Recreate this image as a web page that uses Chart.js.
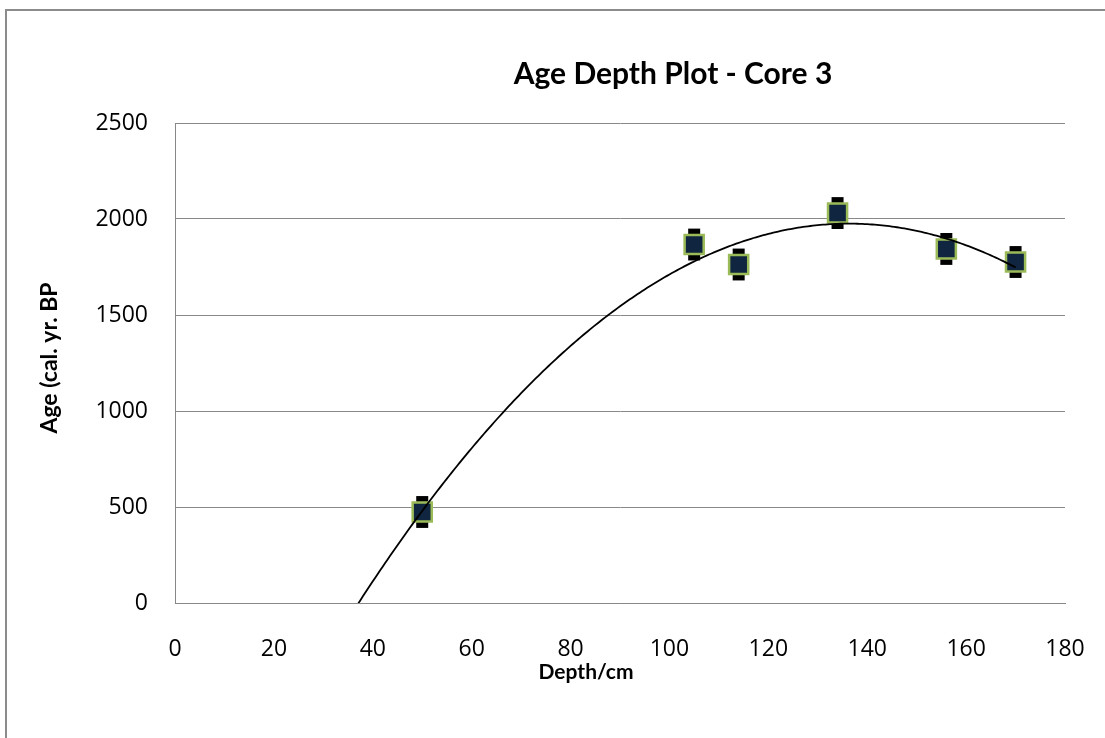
<!DOCTYPE html>
<html>
<head>
<meta charset="utf-8">
<script src="https://cdn.jsdelivr.net/npm/chart.js@4.4.1/dist/chart.umd.min.js"></script>
<style>
  html, body { margin: 0; padding: 0; background: #fff; }
  #wrap { width: 1105px; height: 738px; }
</style>
</head>
<body>
<div id="wrap"><canvas id="ageDepth"></canvas></div>
<script>
// radiocarbon dates, core 3
const depths = [50, 105, 114, 134, 156, 170];
const ages = [474, 1867, 1763, 2031, 1844, 1776];
const ageErrors = [83, 83, 83, 83, 83, 83];
const xTicks = [0, 20, 40, 60, 80, 100, 120, 140, 160, 180];
const yTicks = [0, 500, 1000, 1500, 2000, 2500];

const chartTitle = 'Age Depth Plot - Core 3';
const xTitle = 'Depth/cm';
const yTitle = 'Age (cal. yr. BP';

// 2nd order polynomial least squares, like the spreadsheet trendline
function polyFit2(xs, ys) {
    let s = [0, 0, 0, 0, 0], t = [0, 0, 0];
    xs.forEach((x, i) => {
        for (let k = 0; k < 5; k++) s[k] += Math.pow(x, k);
        for (let k = 0; k < 3; k++) t[k] += ys[i] * Math.pow(x, k);
    });
    const m = [[s[0], s[1], s[2], t[0]], [s[1], s[2], s[3], t[1]], [s[2], s[3], s[4], t[2]]];
    for (let c = 0; c < 3; c++) {
        for (let r = c + 1; r < 3; r++) {
            const f = m[r][c] / m[c][c];
            for (let k = c; k < 4; k++) m[r][k] -= f * m[c][k];
        }
    }
    const b = [0, 0, 0];
    for (let r = 2; r >= 0; r--) {
        let v = m[r][3];
        for (let k = r + 1; k < 3; k++) v -= m[r][k] * b[k];
        b[r] = v / m[r][r];
    }
    return b;
}

const coef = polyFit2(depths, ages);
const trend = [];
for (let x = 0; x <= depths[depths.length - 1]; x += 0.5) {
    trend.push({ x: x, y: coef[0] + coef[1] * x + coef[2] * x * x });
}

const FONT = "'Open Sans', 'DejaVu Sans', sans-serif";
const TITLE_FONT = "Lato, 'Open Sans', sans-serif";

const errorBars = {
    id: 'errorBars',
    beforeDatasetsDraw(chart) {
        const { ctx, scales: { x, y } } = chart;
        ctx.save();
        ctx.strokeStyle = '#000';
        ctx.lineWidth = 12;
        ctx.lineCap = 'butt';
        depths.forEach((d, i) => {
            const px = x.getPixelForValue(d);
            ctx.beginPath();
            ctx.moveTo(px, y.getPixelForValue(ages[i] + ageErrors[i]));
            ctx.lineTo(px, y.getPixelForValue(ages[i] - ageErrors[i]));
            ctx.stroke();
        });
        ctx.restore();
    }
};

// titles sit where they were dragged in the sheet, not centred on the plot
const titles = {
    id: 'titles',
    afterDraw(chart) {
        const ctx = chart.ctx;
        ctx.save();
        ctx.fillStyle = '#000';
        ctx.textAlign = 'center';
        ctx.textBaseline = 'middle';
        ctx.font = 'bold 30px ' + TITLE_FONT;
        ctx.fillText(chartTitle, 673, 74);
        ctx.font = 'bold 21px ' + TITLE_FONT;
        ctx.fillText(xTitle, 586, 672);
        ctx.translate(50, 358);
        ctx.rotate(-Math.PI / 2);
        ctx.font = 'bold 23px ' + TITLE_FONT;
        ctx.fillText(yTitle, 0, 0);
        ctx.restore();
    }
};

const frame = {
    id: 'frame',
    afterDraw(chart) {
        const ctx = chart.ctx;
        ctx.save();
        ctx.strokeStyle = '#8c8c8c';
        ctx.lineWidth = 2;
        ctx.strokeRect(6, 10, 1400, 1200);
        ctx.restore();
    }
};

new Chart(document.getElementById('ageDepth').getContext('2d'), {
    type: 'scatter',
    data: {
        datasets: [
            {
                label: 'Poly. (dates)',
                data: trend,
                showLine: true,
                borderColor: '#000',
                borderWidth: 1.8,
                pointRadius: 0,
                tension: 0,
                order: 0
            },
            {
                label: 'dates',
                data: depths.map((d, i) => ({ x: d, y: ages[i] })),
                pointStyle: 'rect',
                pointRadius: 13.5,
                backgroundColor: '#10253f',
                borderColor: '#9bbb59',
                borderWidth: 2.5,
                order: 1
            }
        ]
    },
    options: {
        responsive: true,
        maintainAspectRatio: false,
        animation: false,
        layout: { padding: { left: 0, right: 40, top: 123, bottom: 0 } },
        plugins: {
            legend: { display: false },
            tooltip: { enabled: false },
            title: { display: false }
        },
        scales: {
            x: {
                type: 'linear',
                min: 0, max: 180,
                afterBuildTicks: s => { s.ticks = xTicks.map(v => ({ value: v })); },
                afterFit: s => { s.height = 135; s.paddingLeft = 0; s.paddingRight = 0; },
                grid: { display: false, drawTicks: false },
                border: { display: true, color: '#888', width: 1 },
                ticks: { color: '#000', padding: 33, font: { family: FONT, size: 23 }, maxRotation: 0,
                         callback: v => String(v) }
            },
            y: {
                type: 'linear',
                min: 0, max: 2500,
                afterBuildTicks: s => { s.ticks = yTicks.map(v => ({ value: v })); },
                afterFit: s => { s.width = 175; s.paddingTop = 0; s.paddingBottom = 0; },
                grid: { color: '#888', lineWidth: 1, drawTicks: false },
                border: { display: true, color: '#888', width: 1 },
                ticks: { color: '#000', padding: 27, font: { family: FONT, size: 23 },
                         callback: v => String(v) }
            }
        }
    },
    plugins: [errorBars, titles, frame]
});
</script>
</body>
</html>
